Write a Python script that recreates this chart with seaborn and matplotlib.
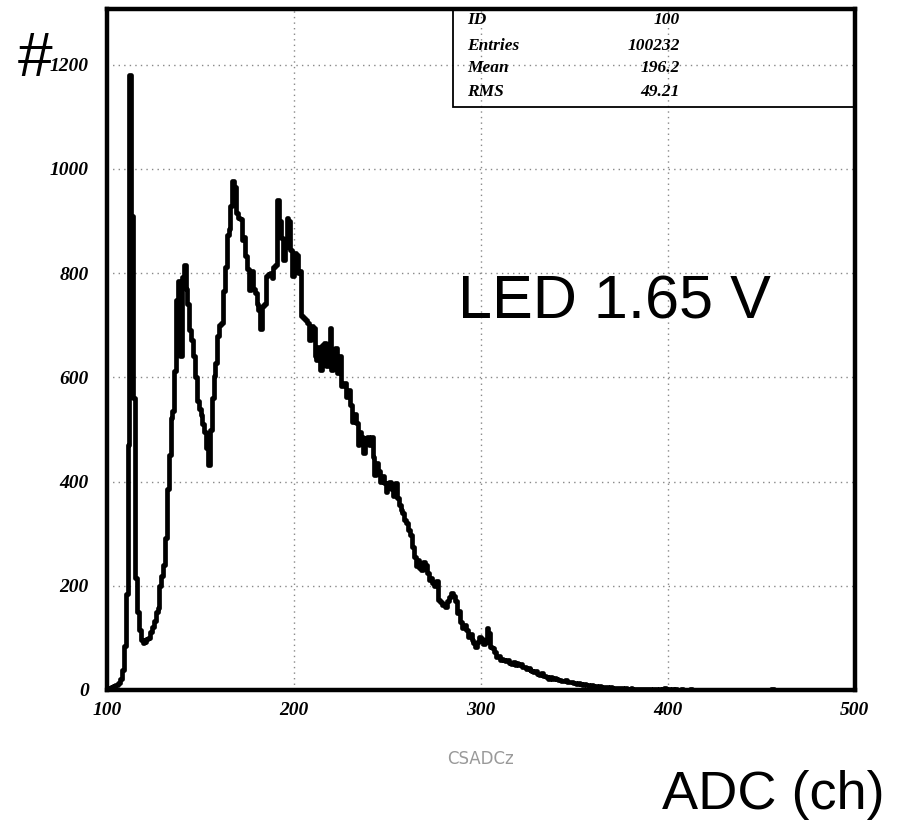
import numpy as np
import pandas as pd
import matplotlib
matplotlib.use("Agg")
import matplotlib.pyplot as plt
import seaborn as sns
from matplotlib.patches import Rectangle

# ADC channel binning: 400 bins of width 1 from 100 to 500
bin_lo = 100
bin_hi = 500

# counts per channel (channel 100 ... 499)
counts = [
    # 100-119
    0, 3, 6, 8, 10, 10, 13, 22, 38, 85, 185, 470, 1180, 910, 560, 215, 150, 115, 96, 90,
    # 120-139
    92, 97, 100, 112, 120, 132, 150, 158, 200, 218, 240, 292, 385, 450, 522, 535, 612, 748, 785, 640,
    # 140-159
    792, 815, 770, 740, 690, 672, 640, 600, 555, 540, 528, 510, 495, 465, 432, 498, 560, 602, 628, 680,
    # 160-179
    700, 705, 765, 812, 874, 884, 928, 976, 965, 916, 905, 903, 864, 870, 832, 808, 768, 805, 770, 762,
    # 180-199
    740, 730, 692, 736, 740, 795, 798, 800, 790, 812, 815, 941, 900, 868, 826, 850, 906, 900, 845, 794,
    # 200-219
    839, 835, 800, 805, 717, 714, 710, 704, 672, 698, 694, 640, 634, 659, 614, 663, 665, 621, 640, 694,
    # 220-239
    614, 650, 656, 608, 640, 583, 590, 589, 563, 575, 547, 515, 530, 512, 470, 495, 486, 454, 475, 486,
    # 240-259
    470, 486, 448, 413, 435, 420, 400, 410, 398, 380, 395, 400, 385, 372, 397, 368, 355, 346, 340, 326,
    # 260-279
    320, 307, 298, 275, 256, 237, 250, 234, 230, 246, 240, 225, 211, 215, 205, 200, 210, 173, 168, 163,
    # 280-299
    165, 160, 170, 178, 186, 180, 170, 147, 152, 131, 118, 125, 115, 102, 108, 96, 90, 83, 92, 102,
    # 300-319
    98, 89, 92, 118, 110, 83, 80, 72, 64, 66, 58, 60, 57, 55, 58, 52, 50, 53, 48, 51,
    # 320-339
    47, 49, 45, 44, 40, 42, 38, 36, 34, 37, 30, 28, 32, 26, 27, 24, 22, 25, 21, 23,
    # 340-359
    22, 19, 20, 18, 17, 19, 16, 15, 16, 14, 13, 12, 13, 11, 10, 11, 9, 10, 8, 9,
    # 360-379
    7, 8, 6, 7, 6, 5, 6, 5, 4, 5, 4, 4, 3, 4, 3, 3, 2, 3, 2, 2,
    # 380-399
    3, 2, 1, 2, 1, 2, 1, 1, 2, 1, 1, 0, 1, 1, 0, 1, 0, 1, 3, 1,
    # 400-419
    1, 0, 1, 0, 1, 0, 0, 1, 0, 0, 0, 0, 1, 0, 0, 0, 0, 0, 0, 0,
    # 420-439
    0, 0, 0, 0, 0, 0, 0, 0, 0, 0, 0, 0, 0, 0, 0, 0, 0, 0, 0, 0,
    # 440-459
    0, 0, 0, 0, 0, 0, 0, 0, 0, 0, 0, 0, 0, 0, 0, 1, 1, 0, 0, 0,
    # 460-479
    0, 0, 0, 0, 0, 0, 0, 0, 0, 0, 0, 0, 0, 0, 0, 0, 0, 0, 0, 0,
    # 480-499
    0, 0, 0, 0, 0, 0, 0, 0, 0, 0, 0, 0, 0, 0, 0, 0, 0, 0, 0, 0,
]

stat_names = ["ID", "Entries", "Mean", "RMS"]
stat_values = ["100", "100232", "196.2", "49.21"]

x_ticks = [100, 200, 300, 400, 500]
y_ticks = [0, 200, 400, 600, 800, 1000, 1200]

df = pd.DataFrame({
    "channel": np.arange(bin_lo, bin_hi) + 0.5,
    "counts": counts,
})

sns.set_style("white")
plt.rcParams["font.family"] = ["Liberation Sans", "DejaVu Sans"]
plt.rcParams["text.color"] = "black"
plt.rcParams["xtick.labelcolor"] = "black"
plt.rcParams["ytick.labelcolor"] = "black"

fig = plt.figure(figsize=(9.01, 8.21), dpi=100)
ax = fig.add_axes([0.1188, 0.1596, 0.830, 0.8295])

sns.histplot(data=df, x="channel", weights="counts", bins=bin_hi - bin_lo,
             binrange=(bin_lo, bin_hi), element="step", fill=False,
             color="black", linewidth=3.4, ax=ax)

ax.set_xlim(bin_lo, bin_hi)
ax.set_ylim(0, 1307)
ax.set_xticks(x_ticks)
ax.set_yticks(y_ticks)

tick_font = dict(family="Liberation Serif", weight="bold", style="italic", size=14)
ax.set_xticklabels([str(t) for t in x_ticks], **tick_font)
ax.set_yticklabels([str(t) for t in y_ticks], **tick_font)
ax.tick_params(axis="both", direction="in", length=12, width=1.2, color="#777777",
               labelcolor="black")
ax.tick_params(axis="x", pad=9)
ax.tick_params(axis="y", pad=13)

ax.grid(True, color="#888888", linestyle=(0, (1, 3)), linewidth=1)
ax.set_axisbelow(True)

for side in ["left", "right", "top", "bottom"]:
    ax.spines[side].set_linewidth(3.2)
    ax.spines[side].set_color("black")

ax.set_xlabel("CSADCz", color="#999999", fontsize=12, family="DejaVu Sans",
              labelpad=22)
ax.set_ylabel("")

# stats box
ax.add_patch(Rectangle((0.4626, 0.856), 0.54, 0.15, transform=ax.transAxes,
                       fill=False, edgecolor="black", linewidth=1.3, zorder=5))
stat_y = [0.984, 0.946, 0.913, 0.878]
stat_font = dict(family="Liberation Serif", weight="bold", style="italic", size=12.5)
for name, val, yy in zip(stat_names, stat_values, stat_y):
    ax.text(0.481, yy, name, transform=ax.transAxes, ha="left", va="center",
            color="black", **stat_font)
    ax.text(0.766, yy, val, transform=ax.transAxes, ha="right", va="center",
            color="black", **stat_font)

ax.text(0.469, 0.568, "LED 1.65 V", transform=ax.transAxes, ha="left", va="center",
        fontsize=44, color="black")
fig.text(0.020, 0.927, "#", ha="left", va="center", fontsize=45, color="black")
fig.text(0.982, 0.032, "ADC (ch)", ha="right", va="center", fontsize=39, color="black")

fig.savefig("out.png", dpi=100)
